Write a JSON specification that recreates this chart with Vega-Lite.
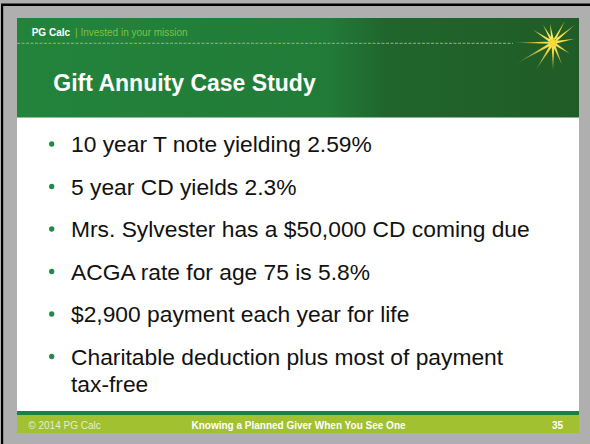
{
  "$schema": "https://vega.github.io/schema/vega-lite/v6.json",
  "width": 562,
  "height": 415,
  "autosize": {"type": "none"},
  "padding": {"left": 17, "top": 18, "right": 11, "bottom": 11},
  "background": "#afafaf",
  "config": {"view": {"stroke": null, "fill": "#ffffff"}, "font": "Liberation Sans"},
  "data": {
    "values": [
      {"section": "brand", "text": "PG Calc"},
      {"section": "tagline", "text": "|  Invested in your mission"},
      {"section": "title", "text": "Gift Annuity Case Study"},
      {"section": "bullet", "item": 1, "text": "10 year T note yielding 2.59%"},
      {"section": "bullet", "item": 2, "text": "5 year CD yields 2.3%"},
      {"section": "bullet", "item": 3, "text": "Mrs. Sylvester has a $50,000 CD coming due"},
      {"section": "bullet", "item": 4, "text": "ACGA rate for age 75 is 5.8%"},
      {"section": "bullet", "item": 5, "text": "$2,900 payment each year for life"},
      {"section": "bullet", "item": 6, "text": "Charitable deduction plus most of payment\ntax-free"},
      {"section": "footer-left", "text": "© 2014 PG Calc"},
      {"section": "footer-center", "text": "Knowing a Planned Giver When You See One"},
      {"section": "footer-right", "text": "35"}
    ]
  },
  "resolve": {"scale": {"y": "independent"}},
  "layer": [
    {
      "data": {"values": [{"part": "frame left"}]},
      "mark": {"type": "rect", "fill": "#000000"},
      "encoding": {
        "x": {"datum": -16, "type": "quantitative", "scale": {"domain": [0, 562], "nice": false, "zero": false}, "axis": null},
        "x2": {"datum": -13.8},
        "y": {"datum": -14, "type": "quantitative", "scale": {"domain": [0, 415], "range": [0, 415], "nice": false, "zero": false}, "axis": null},
        "y2": {"datum": 426}
      }
    },
    {
      "data": {"values": [{"part": "frame top"}]},
      "mark": {"type": "rect", "fill": "#000000"},
      "encoding": {
        "x": {"datum": -16, "type": "quantitative", "axis": null},
        "x2": {"datum": 573},
        "y": {"datum": -14.6, "type": "quantitative", "scale": {"domain": [0, 415], "range": [0, 415], "nice": false, "zero": false}, "axis": null},
        "y2": {"datum": -12}
      }
    },
    {
      "data": {"values": [{"part": "header band"}]},
      "mark": {
        "type": "rect",
        "fill": {
          "gradient": "linear", "x1": 0, "y1": 0, "x2": 1, "y2": 0,
          "stops": [
            {"offset": 0, "color": "#23833b"},
            {"offset": 0.55, "color": "#217c38"},
            {"offset": 0.66, "color": "#20652c"},
            {"offset": 1, "color": "#205c27"}
          ]
        }
      },
      "encoding": {
        "x": {"datum": 0, "type": "quantitative", "axis": null},
        "x2": {"datum": 562},
        "y": {"datum": 0, "type": "quantitative", "scale": {"domain": [0, 415], "range": [0, 415], "nice": false, "zero": false}, "axis": null},
        "y2": {"datum": 99.5}
      }
    },
    {
      "data": {"values": [{"part": "divider"}]},
      "mark": {"type": "rule", "stroke": "#8cc63f", "strokeWidth": 1, "strokeDash": [3, 1.5]},
      "encoding": {
        "x": {"datum": 0, "type": "quantitative", "axis": null},
        "x2": {"datum": 496},
        "y": {"datum": 25.3, "type": "quantitative", "scale": {"domain": [0, 415], "range": [0, 415], "nice": false, "zero": false}, "axis": null}
      }
    },
    {
      "data": {"values": [{"part": "star"}]},
      "mark": {
        "type": "point",
        "filled": true,
        "size": 4,
        "strokeWidth": 0,
        "shape": "M1.5,-0.24L-3,-19L-1.5,0.24Z M0.95,1.15L22,-18L-0.95,-1.15Z M0.27,1.48L22,-4L-0.27,-1.48Z M-0.82,1.26L17,11L0.82,-1.26Z M-1.38,0.57L9,22L1.38,-0.57Z M-1.5,0L0,28L1.5,0Z M-1.26,-0.8L-17,27L1.26,0.8Z M-0.74,-1.3L-37,21L0.74,1.3Z M0,-1.1L-40,0L0,1.1Z M0.82,-1.25L-20,-13L-0.82,1.25Z M1.3,-0.73L-10,-18L-1.3,0.73Z M-1.05,-1.05L12,-22L1.05,1.05Z",
        "fill": {
          "gradient": "radial", "x1": 0.645, "y1": 0.404, "r1": 0, "x2": 0.645, "y2": 0.404, "r2": 0.62,
          "stops": [
            {"offset": 0, "color": "#fff06a"},
            {"offset": 0.35, "color": "#f0d53c"},
            {"offset": 1, "color": "rgba(230,210,100,0.2)"}
          ]
        },
        "opacity": 1
      },
      "encoding": {
        "x": {"datum": 536, "type": "quantitative", "axis": null},
        "y": {"datum": 24.7, "type": "quantitative", "scale": {"domain": [0, 415], "range": [0, 415], "nice": false, "zero": false}, "axis": null}
      }
    },
    {
      "data": {"values": [{"part": "star core"}]},
      "mark": {
        "type": "circle",
        "size": 75,
        "fill": {
          "gradient": "radial", "x1": 0.5, "y1": 0.5, "r1": 0, "x2": 0.5, "y2": 0.5, "r2": 0.5,
          "stops": [
            {"offset": 0, "color": "#ffe23a"},
            {"offset": 0.7, "color": "#f7d232"},
            {"offset": 1, "color": "rgba(245,210,60,0.4)"}
          ]
        },
        "opacity": 1
      },
      "encoding": {
        "x": {"datum": 536, "type": "quantitative", "axis": null},
        "y": {"datum": 24.7, "type": "quantitative", "scale": {"domain": [0, 415], "range": [0, 415], "nice": false, "zero": false}, "axis": null}
      }
    },
    {
      "transform": [{"filter": "datum.section === 'brand'"}],
      "mark": {"type": "text", "align": "left", "baseline": "alphabetic", "fontSize": 10, "fontWeight": "bold", "color": "#ffffff"},
      "encoding": {
        "x": {"datum": 14.7, "type": "quantitative", "axis": null},
        "y": {"datum": 18, "type": "quantitative", "scale": {"domain": [0, 415], "range": [0, 415], "nice": false, "zero": false}, "axis": null},
        "text": {"field": "text"}
      }
    },
    {
      "transform": [{"filter": "datum.section === 'tagline'"}],
      "mark": {"type": "text", "align": "left", "baseline": "alphabetic", "fontSize": 10, "color": "#7fc242"},
      "encoding": {
        "x": {"datum": 58, "type": "quantitative", "axis": null},
        "y": {"datum": 18, "type": "quantitative", "scale": {"domain": [0, 415], "range": [0, 415], "nice": false, "zero": false}, "axis": null},
        "text": {"field": "text"}
      }
    },
    {
      "transform": [{"filter": "datum.section === 'title'"}],
      "mark": {"type": "text", "align": "left", "baseline": "alphabetic", "fontSize": 23, "fontWeight": "bold", "color": "#ffffff"},
      "encoding": {
        "x": {"datum": 36.3, "type": "quantitative", "axis": null},
        "y": {"datum": 72.7, "type": "quantitative", "scale": {"domain": [0, 415], "range": [0, 415], "nice": false, "zero": false}, "axis": null},
        "text": {"field": "text"}
      }
    },
    {
      "transform": [{"filter": "datum.section === 'bullet'"}],
      "mark": {"type": "circle", "size": 28, "color": "#1e8c46", "opacity": 1},
      "encoding": {
        "x": {"datum": 34.7, "type": "quantitative", "axis": null},
        "y": {"field": "item", "type": "quantitative", "scale": {"domain": [1, 6], "range": [126, 338.5], "nice": false, "zero": false}, "axis": null}
      }
    },
    {
      "transform": [{"filter": "datum.section === 'bullet'"}],
      "mark": {"type": "text", "align": "left", "baseline": "alphabetic", "fontSize": 22.8, "color": "#111111", "lineBreak": "\n", "lineHeight": 26.7},
      "encoding": {
        "x": {"datum": 54, "type": "quantitative", "axis": null},
        "y": {"field": "item", "type": "quantitative", "scale": {"domain": [1, 6], "range": [134, 347], "nice": false, "zero": false}, "axis": null},
        "text": {"field": "text"}
      }
    },
    {
      "data": {"values": [{"part": "footer rule"}]},
      "mark": {"type": "rect", "fill": "#1e803e"},
      "encoding": {
        "x": {"datum": 0, "type": "quantitative", "axis": null},
        "x2": {"datum": 562},
        "y": {"datum": 393, "type": "quantitative", "scale": {"domain": [0, 415], "range": [0, 415], "nice": false, "zero": false}, "axis": null},
        "y2": {"datum": 397}
      }
    },
    {
      "data": {"values": [{"part": "footer band"}]},
      "mark": {"type": "rect", "fill": "#a2c130"},
      "encoding": {
        "x": {"datum": 0, "type": "quantitative", "axis": null},
        "x2": {"datum": 562},
        "y": {"datum": 397, "type": "quantitative", "scale": {"domain": [0, 415], "range": [0, 415], "nice": false, "zero": false}, "axis": null},
        "y2": {"datum": 415}
      }
    },
    {
      "transform": [{"filter": "datum.section === 'footer-left'"}],
      "mark": {"type": "text", "align": "left", "baseline": "alphabetic", "fontSize": 10, "color": "#e6eecb"},
      "encoding": {
        "x": {"datum": 11.3, "type": "quantitative", "axis": null},
        "y": {"datum": 411, "type": "quantitative", "scale": {"domain": [0, 415], "range": [0, 415], "nice": false, "zero": false}, "axis": null},
        "text": {"field": "text"}
      }
    },
    {
      "transform": [{"filter": "datum.section === 'footer-center'"}],
      "mark": {"type": "text", "align": "center", "baseline": "alphabetic", "fontSize": 10, "fontWeight": "bold", "color": "#ffffff"},
      "encoding": {
        "x": {"datum": 281.5, "type": "quantitative", "axis": null},
        "y": {"datum": 411, "type": "quantitative", "scale": {"domain": [0, 415], "range": [0, 415], "nice": false, "zero": false}, "axis": null},
        "text": {"field": "text"}
      }
    },
    {
      "transform": [{"filter": "datum.section === 'footer-right'"}],
      "mark": {"type": "text", "align": "right", "baseline": "alphabetic", "fontSize": 10, "fontWeight": "bold", "color": "#ffffff"},
      "encoding": {
        "x": {"datum": 546, "type": "quantitative", "axis": null},
        "y": {"datum": 411, "type": "quantitative", "scale": {"domain": [0, 415], "range": [0, 415], "nice": false, "zero": false}, "axis": null},
        "text": {"field": "text"}
      }
    }
  ]
}
